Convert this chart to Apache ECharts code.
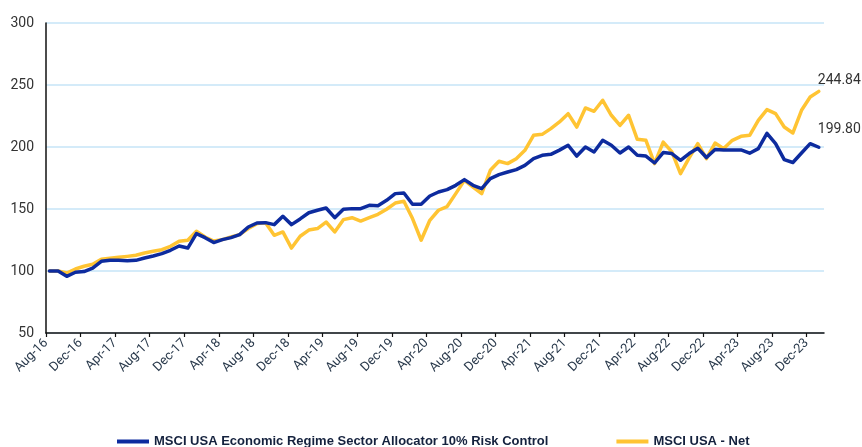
<!DOCTYPE html>
<html>
<head>
<meta charset="utf-8">
<script src="https://cdn.jsdelivr.net/npm/echarts@6/dist/echarts.min.js"></script>
<style>
  html, body { margin: 0; padding: 0; background: #fff; }
  #chart { width: 862px; height: 447px; }
</style>
</head>
<body>
<div id="chart"></div>
<script>
// Monthly index levels, Aug 2016 = 100, through Jan 2024
const months = [
  'Aug-16','Sep-16','Oct-16','Nov-16','Dec-16','Jan-17','Feb-17','Mar-17','Apr-17','May-17','Jun-17','Jul-17',
  'Aug-17','Sep-17','Oct-17','Nov-17','Dec-17','Jan-18','Feb-18','Mar-18','Apr-18','May-18','Jun-18','Jul-18',
  'Aug-18','Sep-18','Oct-18','Nov-18','Dec-18','Jan-19','Feb-19','Mar-19','Apr-19','May-19','Jun-19','Jul-19',
  'Aug-19','Sep-19','Oct-19','Nov-19','Dec-19','Jan-20','Feb-20','Mar-20','Apr-20','May-20','Jun-20','Jul-20',
  'Aug-20','Sep-20','Oct-20','Nov-20','Dec-20','Jan-21','Feb-21','Mar-21','Apr-21','May-21','Jun-21','Jul-21',
  'Aug-21','Sep-21','Oct-21','Nov-21','Dec-21','Jan-22','Feb-22','Mar-22','Apr-22','May-22','Jun-22','Jul-22',
  'Aug-22','Sep-22','Oct-22','Nov-22','Dec-22','Jan-23','Feb-23','Mar-23','Apr-23','May-23','Jun-23','Jul-23',
  'Aug-23','Sep-23','Oct-23','Nov-23','Dec-23','Jan-24'
];

const regimeAllocator = [
  100, 100, 95.7, 99, 99.5, 102.4, 107.8, 108.6, 108.6, 108.3, 108.6, 110.5,
  112.1, 114, 116.7, 120.2, 118.5, 130.2, 126.9, 122.9, 125.3, 126.9, 129.3, 135.5,
  138.7, 139, 137.4, 144.1, 137.4, 142, 147, 149, 150.8, 143, 149.8, 150.3,
  150.3, 153, 152.7, 157, 162.4, 162.9, 153.8, 153.8, 160.5, 163.7, 165.6, 169.1,
  173.7, 169.1, 166.5, 174.5, 177.7, 179.8, 181.8, 185.2, 190.6, 193.3, 194.1, 197.5,
  201.4, 192.7, 200, 196, 205.4, 201.4, 195.2, 200, 193.3, 192.7, 187.1, 195.5,
  194.7, 189.3, 194.7, 199, 191.5, 198, 197.6, 197.6, 197.6, 195, 198.7, 211,
  202.7, 189.8, 187.5, 195.2, 202.7, 199.80
];

const usaNet = [
  100, 100, 98.4, 101.6, 103.8, 105.4, 109.4, 110.2, 111, 111.8, 112.7, 114.5,
  115.9, 117.2, 119.9, 124, 124.8, 132, 127.4, 124.2, 125.3, 127.4, 129.3, 134.2,
  138.2, 139, 128.8, 131.5, 118.5, 128, 133, 134.2, 139.5, 131.5, 141.4, 143,
  140.3, 143, 145.7, 149.8, 154.8, 156.2, 142.3, 124.8, 140.9, 149, 152, 162.4,
  173.1, 167.7, 162.4, 181.2, 188.5, 186.6, 190.6, 197.3, 209.4, 210.2, 214.8, 220.2,
  226.9, 216.1, 231.5, 228.8, 237.7, 225.6, 217.5, 225.6, 206.2, 205.4, 186.6, 204,
  196, 178.5, 191.2, 202.7, 190.6, 203.2, 198.7, 205.4, 208.6, 209.4, 221.5, 230.2,
  226.9, 216.1, 211.3, 229.6, 240.3, 244.84
];

const yTicks = [50, 100, 150, 200, 250, 300];
const seriesNames = ['MSCI USA Economic Regime Sector Allocator 10% Risk Control', 'MSCI USA - Net'];
const seriesColors = ['#0d2b9e', '#ffc433'];

// month observations sit a little past the month tick
const obsShift = 0.4;
const labelMonths = months.map((m, i) => i).filter(i => i % 4 === 0);

function toPoints(values) {
  return values.map((v, i) => [i + obsShift, v]);
}

function endLabel(lift) {
  return {
    show: true,
    distance: 0,
    offset: [-1, -lift],
    formatter: p => p.value[1].toFixed(2),
    color: '#333333',
    fontSize: 14,
    fontFamily: 'Roboto, Arial, sans-serif'
  };
}

const chart = echarts.init(document.getElementById('chart'), null, { renderer: 'canvas' });

chart.setOption({
  animation: false,
  backgroundColor: '#ffffff',
  grid: { left: 46, right: 38, top: 23, bottom: 114, containLabel: false },
  legend: {
    bottom: -6,
    left: 112,
    itemGap: 68,
    itemWidth: 32,
    itemHeight: 4,
    icon: 'rect',
    textStyle: {
      color: '#14213d',
      fontSize: 13,
      fontWeight: 'bold',
      fontFamily: 'Liberation Sans, Arial, sans-serif'
    },
    data: seriesNames
  },
  xAxis: {
    type: 'value',
    min: 0,
    max: months.length,
    interval: 4,
    splitLine: { show: false },
    axisLine: { show: true, lineStyle: { color: '#111111', width: 1.5 } },
    axisTick: {
      show: true,
      customValues: labelMonths,
      length: 4,
      lineStyle: { color: '#111111', width: 1.2 }
    },
    axisLabel: {
      customValues: labelMonths,
      rotate: 45,
      margin: 8,
      color: '#2a3a4c',
      fontSize: 13,
      fontFamily: 'Roboto, Arial, sans-serif',
      formatter: v => months[Math.round(v)] || ''
    }
  },
  yAxis: {
    type: 'value',
    min: yTicks[0],
    max: yTicks[yTicks.length - 1],
    interval: 50,
    axisLine: { show: true, lineStyle: { color: '#111111', width: 1.5 } },
    axisTick: { show: false },
    splitLine: { show: true, lineStyle: { color: '#c6e4f7', width: 1.5 } },
    axisLabel: {
      margin: 12,
      color: '#333333',
      fontSize: 14,
      fontFamily: 'Roboto, Arial, sans-serif'
    }
  },
  series: [
    {
      name: seriesNames[0],
      type: 'line',
      data: toPoints(regimeAllocator),
      showSymbol: false,
      symbol: 'none',
      lineStyle: { color: seriesColors[0], width: 3.5, join: 'round', cap: 'round' },
      itemStyle: { color: seriesColors[0] },
      endLabel: endLabel(18),
      z: 3
    },
    {
      name: seriesNames[1],
      type: 'line',
      data: toPoints(usaNet),
      showSymbol: false,
      symbol: 'none',
      lineStyle: { color: seriesColors[1], width: 3.5, join: 'round', cap: 'round' },
      itemStyle: { color: seriesColors[1] },
      endLabel: endLabel(11),
      z: 2
    }
  ]
});
</script>
</body>
</html>
